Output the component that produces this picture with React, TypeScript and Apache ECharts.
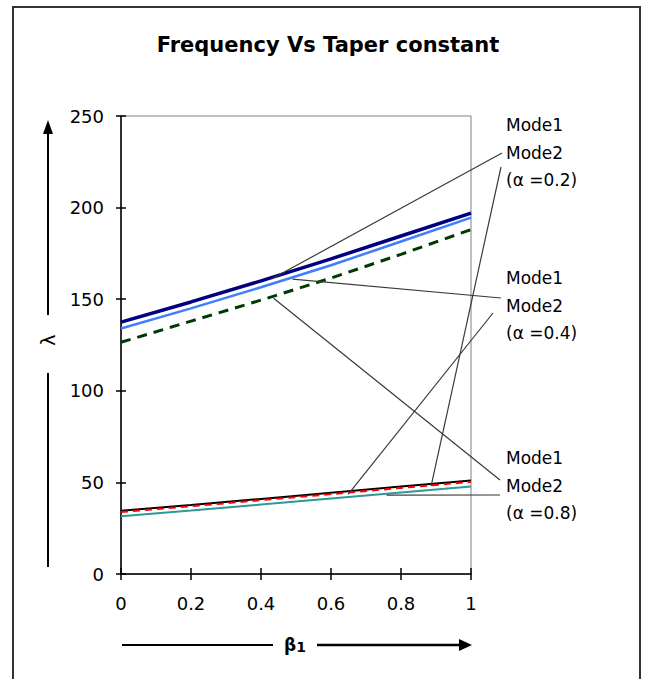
import React, { useEffect, useRef } from "react";
import * as echarts from "echarts";

// β1 sample points
const betaValues = [0, 0.2, 0.4, 0.6, 0.8, 1];
// Mode 2 (upper group)
const mode2Alpha02 = [137.5, 148.5, 160, 172, 184.5, 197];
const mode2Alpha04 = [134, 145, 156.5, 168.5, 181.5, 194.5];
const mode2Alpha08 = [126.5, 138, 149.5, 161.5, 174.5, 188];
// Mode 1 (lower group)
const mode1Alpha02 = [34.5, 37.7, 41, 44.3, 47.7, 51];
const mode1Alpha04 = [33.8, 37, 40.3, 43.6, 47, 50.3];
const mode1Alpha08 = [31.5, 34.6, 37.9, 41.2, 44.5, 47.8];

const yTicks = [0, 50, 100, 150, 200, 250];
const xTicks = [0, 0.2, 0.4, 0.6, 0.8, 1];

const labelGroups = [
  ["Mode1", "Mode2", "(α =0.2)"],
  ["Mode1", "Mode2", "(α =0.4)"],
  ["Mode1", "Mode2", "(α =0.8)"],
];

// leader-line targets on the curves: [β1, λ]
const leaderTargets = [
  [0.43, 161],
  [0.886, 48],
  [0.49, 161],
  [0.649, 43.5],
  [0.436, 150.5],
  [0.759, 43],
];

const FONT = "DejaVu Sans";

export default function App() {
  const ref = useRef<HTMLDivElement>(null);
  useEffect(() => {
    document.body.style.margin = "0";
    const chart = echarts.init(ref.current!, null, { renderer: "svg" });
    const mk = (name: string, vals: number[], color: string, width: number, type: any, z: number) => ({
      type: "line",
      name,
      data: betaValues.map((b, i) => [b, vals[i]]),
      showSymbol: false,
      symbol: "none",
      lineStyle: { color, width, type },
      z,
    });
    const xMin = xTicks[0];
    const xMax = xTicks[xTicks.length - 1];
    const yMin = yTicks[0];
    const yMax = yTicks[yTicks.length - 1];
    chart.setOption({
      animation: false,
      backgroundColor: "#fff",
      grid: {
        left: 121,
        top: 116,
        right: 645 - 471,
        bottom: 679 - 574,
        show: true,
        borderColor: "#808080",
        borderWidth: 1,
        backgroundColor: "transparent",
      },
      xAxis: [
        {
          type: "value",
          min: xMin,
          max: xMax,
          interval: 0.2,
          splitLine: { show: false },
          axisLine: { show: true, lineStyle: { color: "#000", width: 1.5 } },
          axisTick: { show: true, length: 6, lineStyle: { color: "#000", width: 1.5 } },
          axisLabel: { color: "#000", fontFamily: FONT, fontSize: 18, margin: 20 },
        },
        {
          type: "value",
          min: xMin,
          max: xMax,
          interval: 0.2,
          position: "bottom",
          splitLine: { show: false },
          axisLine: { show: false },
          axisTick: { show: true, inside: true, length: 6, lineStyle: { color: "#000", width: 1.5 } },
          axisLabel: { show: false },
        },
      ],
      yAxis: [
        {
          type: "value",
          min: yMin,
          max: yMax,
          interval: 50,
          splitLine: { show: false },
          axisLine: { show: true, lineStyle: { color: "#000", width: 1.5 } },
          axisTick: { show: true, length: 5, lineStyle: { color: "#000", width: 1.5 } },
          axisLabel: { color: "#000", fontFamily: FONT, fontSize: 18, margin: 17 },
        },
        {
          type: "value",
          min: yMin,
          max: yMax,
          interval: 50,
          position: "left",
          splitLine: { show: false },
          axisLine: { show: false },
          axisTick: { show: true, inside: true, length: 5, lineStyle: { color: "#000", width: 1.5 } },
          axisLabel: { show: false },
        },
      ],
      series: [
        mk("Mode1 (α =0.2)", mode1Alpha02, "#000000", 2, "solid", 3),
        mk("Mode1 (α =0.4)", mode1Alpha04, "#ff0000", 2, [7, 5], 4),
        mk("Mode1 (α =0.8)", mode1Alpha08, "#2a9a9a", 2, "solid", 3),
        mk("Mode2 (α =0.2)", mode2Alpha02, "#000080", 3.5, "solid", 3),
        mk("Mode2 (α =0.4)", mode2Alpha04, "#3f7fff", 2.5, "solid", 3),
        mk("Mode2 (α =0.8)", mode2Alpha08, "#003a00", 3, [10, 7], 3),
      ],
    });

    const leaderStarts = [
      [502, 153],
      [501, 167],
      [501, 298],
      [493, 313],
      [500, 480],
      [500, 495],
    ];
    const leaders = leaderTargets.map((t, i) => {
      const p = chart.convertToPixel({ gridIndex: 0 }, t) as number[];
      return {
        type: "line",
        shape: { x1: leaderStarts[i][0], y1: leaderStarts[i][1], x2: p[0], y2: p[1] },
        style: { stroke: "#3a3a3a", lineWidth: 1.2 },
        z: 10,
      };
    });
    const groupTops = [125, 278, 458];
    const labelTexts: any[] = [];
    labelGroups.forEach((g, gi) => {
      g.forEach((t, ti) => {
        labelTexts.push({
          type: "text",
          x: 506,
          y: groupTops[gi] + ti * 27.5,
          style: {
            text: t,
            fill: "#000",
            font: `17px "${FONT}"`,
            textVerticalAlign: "middle",
            verticalAlign: "middle",
          },
          z: 10,
        });
      });
    });

    chart.setOption({
      graphic: [
        {
          type: "rect",
          shape: { x: 13, y: 7, width: 627, height: 700 },
          style: { fill: "none", stroke: "#333", lineWidth: 2 },
          z: 1,
        },
        {
          type: "text",
          x: 328,
          y: 45,
          style: {
            text: "Frequency Vs Taper constant",
            fill: "#000",
            font: `bold 21px "${FONT}"`,
            align: "center",
            verticalAlign: "middle",
          },
        },
        // y-axis arrow
        { type: "line", shape: { x1: 48, y1: 315, x2: 48, y2: 130 }, style: { stroke: "#000", lineWidth: 2 } },
        { type: "polygon", shape: { points: [[48, 120], [43, 134], [53, 134]] }, style: { fill: "#000" } },
        { type: "line", shape: { x1: 48, y1: 373, x2: 48, y2: 567 }, style: { stroke: "#000", lineWidth: 2 } },
        {
          type: "text",
          x: 48,
          y: 340,
          rotation: Math.PI / 2,
          style: { text: "λ", fill: "#000", font: `19px "${FONT}"`, align: "center", verticalAlign: "middle" },
        },
        // x-axis arrow
        { type: "line", shape: { x1: 122, y1: 645, x2: 273, y2: 645 }, style: { stroke: "#000", lineWidth: 2 } },
        { type: "line", shape: { x1: 317, y1: 645, x2: 462, y2: 645 }, style: { stroke: "#000", lineWidth: 2.5 } },
        { type: "polygon", shape: { points: [[472, 645], [459, 639], [459, 651]] }, style: { fill: "#000" } },
        {
          type: "text",
          x: 295,
          y: 645,
          style: {
            text: "{b|β}{s|1}",
            align: "center",
            verticalAlign: "middle",
            rich: {
              b: { font: `bold 17px "${FONT}"`, fill: "#000" },
              s: { font: `bold 14px "${FONT}"`, fill: "#000", padding: [3, 0, 0, 0] },
            },
          },
        },
        ...leaders,
        ...labelTexts,
      ],
    });
    return () => chart.dispose();
  }, []);
  return <div ref={ref} style={{ width: 645, height: 679 }} />;
}
